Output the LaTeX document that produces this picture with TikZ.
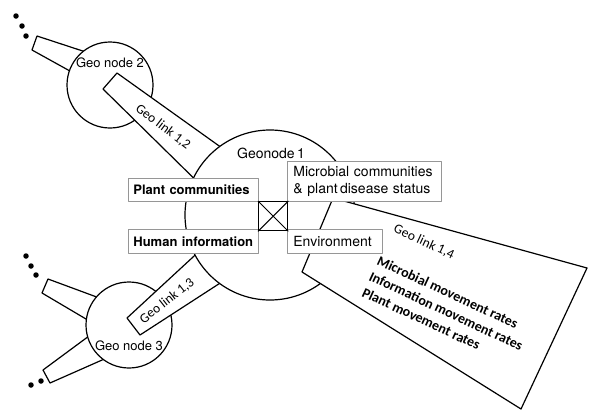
\documentclass[tikz,border=0pt]{standalone}
\usepackage{fontspec}
\setmainfont{TeX Gyre Heros}
\newfontfamily\calib{Carlito}
\definecolor{boxgray}{RGB}{150,150,150}
\begin{document}
\begin{tikzpicture}[x=1pt,y=-1pt,line join=round]
\tikzset{
  wedge/.style={draw=black,fill=white,line width=1.2pt},
  geocirc/.style={circle,draw=black,fill=white,line width=1.2pt,inner sep=0pt},
  blackdot/.style={circle,fill=black,inner sep=0pt,minimum size=5.5pt},
  lbox/.style={draw=boxgray,fill=white,line width=0.8pt,anchor=north west,
    inner ysep=0pt,align=left,font=\fontsize{14}{17}\selectfont},
  boldbox/.style={lbox,font=\fontsize{13}{16}\selectfont\bfseries},
  nodelabel/.style={font=\fontsize{13}{15}\selectfont,inner sep=0pt},
  linklabel/.style={font=\calib\fontsize{13.5}{16}\selectfont,inner sep=0pt},
  ratelabel/.style={font=\calib\fontsize{14}{17}\selectfont\bfseries,inner sep=0pt,anchor=base west,rotate=-25},
}
\useasboundingbox (0,0) rectangle (589,410);

% outer strips
\draw[wedge] (37,36) -- (101,57) -- (97,86) -- (32,50) -- cycle;
\draw[wedge] (48,279) -- (121,306) -- (108,332) -- (42,293) -- cycle;
\draw[wedge] (43,370) -- (112,319) -- (127,349) -- (50,383) -- cycle;

% dots
\node[blackdot] (d1) at (16,16) {};
\node[blackdot] (d2) at (22,26) {};
\node[blackdot] (d3) at (26,36) {};
\node[blackdot] (d4) at (26,256) {};
\node[blackdot] (d5) at (31,266) {};
\node[blackdot] (d6) at (36,275) {};
\node[blackdot] (d7) at (31,385) {};
\node[blackdot] (d8) at (41,381) {};

% small geo nodes
\node[geocirc,minimum size=86pt] (g2) at (110,85) {};
\node[geocirc,minimum size=86pt] (g3) at (129,325) {};

% links 1,2 and 1,3
\draw[wedge] (117,73) -- (250,168) -- (219,203) -- (103,89) -- cycle;
\draw[wedge] (127,318) -- (219,233) -- (248,265) -- (140,335) -- cycle;

% geonode 1
\node[geocirc,minimum size=170pt] (g1) at (270,215) {};

% link 1,4
\draw[wedge] (333,198) -- (587,268) -- (521,409) -- (302,272) -- cycle;

% labels
\node[nodelabel] (t2) at (110,63) {Geo node 2};
\node[nodelabel] (t3) at (129,346) {Geo node 3};
\node[nodelabel,font=\fontsize{14}{16}\selectfont] (t1) at (271,153) {Geonode\,1};
\node[linklabel,rotate=-37] (l12) at (163,127) {Geo link 1,2};
\node[linklabel,rotate=38] (l13) at (167,301) {Geo link 1,3};
\node[linklabel,rotate=-25] (l14) at (424,242) {Geo link 1,4};
\node[ratelabel] (r1) at (376,264) {Microbial movement rates};
\node[ratelabel] (r2) at (368,280) {Information movement rates};
\node[ratelabel] (r3) at (361,296) {Plant movement rates};

% boxes
\node[boldbox,minimum width=130pt,minimum height=23pt,text width=120pt,inner xsep=5pt] (pc) at (128,178) {\mbox{Plant communities}};
\node[boldbox,minimum width=130pt,minimum height=24pt,text width=120pt,inner xsep=5pt] (hi) at (128,229) {\mbox{Human information}};
\node[lbox,minimum width=154pt,minimum height=40pt,text width=142pt,inner xsep=6pt] (mc) at (287,161) {Microbial communities\\\& plant\,disease status};
\node[lbox,minimum width=95pt,minimum height=24pt,text width=83pt,inner xsep=6pt] (env) at (287,229) {Environment};
\node[draw=black,line width=1.3pt,fill=white,anchor=north west,minimum size=29pt,inner sep=0pt] (xb) at (258,201) {};
\draw[line width=1pt] (xb.north west) -- (xb.south east) (xb.north east) -- (xb.south west);
\end{tikzpicture}
\end{document}
